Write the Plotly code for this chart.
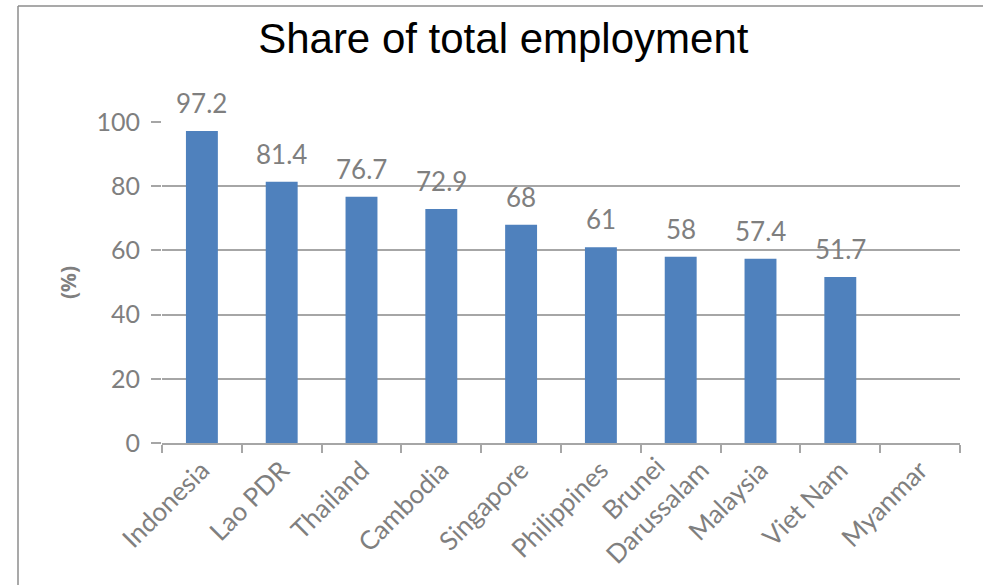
import plotly.graph_objects as go

categories = ["Indonesia", "Lao PDR", "Thailand", "Cambodia", "Singapore",
              "Philippines", "Brunei Darussalam", "Malaysia", "Viet Nam", "Myanmar"]
tick_text = ["Indonesia", "Lao PDR", "Thailand", "Cambodia", "Singapore",
             "Philippines", "", "Malaysia", "Viet Nam", "Myanmar"]
values = [97.2, 81.4, 76.7, 72.9, 68, 61, 58, 57.4, 51.7, None]
labels = ["97.2", "81.4", "76.7", "72.9", "68", "61", "58", "57.4", "51.7", ""]
y_ticks = [0, 20, 40, 60, 80, 100]

gray = "#7f7f7f"
fig = go.Figure(go.Bar(
    x=categories, y=values,
    marker=dict(color="#4F81BD", line=dict(width=0)),
    cliponaxis=False,
))

for c, v, t in zip(categories, values, labels):
    if v is None:
        continue
    fig.add_annotation(x=c, y=v, text=t, showarrow=False, yanchor="middle",
                       yshift=28, font=dict(family="Lato", size=26, color=gray))

# two-line category label, centred lines like the reference
fig.add_annotation(x="Brunei Darussalam", y=0, text="Brunei<br>Darussalam",
                   showarrow=False, textangle=-45, align="center",
                   xanchor="center", yanchor="middle", xshift=-36, yshift=-57,
                   font=dict(family="Lato", size=26, color=gray))

def px_to_paper_x(px):
    return (px - 162) / 798

def px_to_paper_y(py):
    return (443 - py) / 321

fig.update_layout(
    width=983, height=585,
    margin=dict(l=162, r=23, t=122, b=142),
    paper_bgcolor="white", plot_bgcolor="white",
    showlegend=False,
    bargap=0.6,
    title=dict(text="Share of total employment", x=0.512, xanchor="center",
               y=1 - 38 / 585, yanchor="middle",
               font=dict(family="Liberation Sans", size=42, color="black")),
    xaxis=dict(tickangle=-45, tickfont=dict(family="Lato", size=26, color=gray),
               tickvals=categories, ticktext=tick_text,
               automargin=False,
               showline=True, linecolor="#a6a6a6", linewidth=1.5,
               ticks="outside", tickson="boundaries", ticklen=8,
               tickcolor="#a6a6a6", tickwidth=1.5, showgrid=False),
    yaxis=dict(range=[0, 100], tickvals=y_ticks, automargin=False,
               tickfont=dict(family="Lato", size=25, color=gray),
               ticklabelstandoff=6,
               showgrid=True, gridcolor="#a6a6a6", gridwidth=1.5,
               ticks="outside", ticklen=10, tickcolor="#a6a6a6", tickwidth=1.5,
               showline=False, zeroline=False,
               title=dict(text="<b>(%)</b>", font=dict(family="Noto Sans", size=21, color=gray),
                          standoff=14)),
    shapes=[
        dict(type="line", xref="paper", yref="paper",
             x0=px_to_paper_x(18), x1=px_to_paper_x(983),
             y0=px_to_paper_y(6), y1=px_to_paper_y(6),
             line=dict(color="#8c8c8c", width=1.5)),
        dict(type="line", xref="paper", yref="paper",
             x0=px_to_paper_x(18), x1=px_to_paper_x(18),
             y0=px_to_paper_y(6), y1=px_to_paper_y(585),
             line=dict(color="#8c8c8c", width=1.5)),
    ],
)

fig.write_html("out.html", config={"displayModeBar": False},
               post_script="document.body.style.margin='0';document.body.style.overflow='hidden';")
